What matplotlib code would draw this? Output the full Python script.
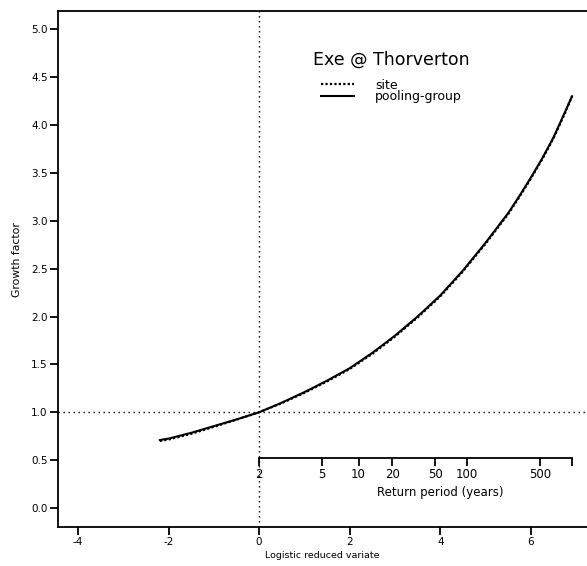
import numpy as np
import matplotlib
matplotlib.use("Agg")
import matplotlib.pyplot as plt

plt.rcParams['font.family'] = ['DejaVu Sans']
plt.rcParams['axes.unicode_minus'] = False

# Growth curves against the logistic reduced variate
reduced_variate = [-2.19, -2.0, -1.5, -1.0, -0.5, 0.0, 0.5, 1.0, 1.5, 2.0,
                   2.5, 3.0, 3.5, 4.0, 4.5, 5.0, 5.5, 5.75, 6.0, 6.25, 6.5, 6.75, 6.91]
growth_site = [0.70, 0.715, 0.775, 0.848, 0.922, 1.00, 1.095, 1.203, 1.322, 1.452,
               1.61, 1.79, 1.99, 2.21, 2.47, 2.76, 3.07, 3.25, 3.44, 3.64, 3.86, 4.12, 4.30]
growth_pooled = [0.71, 0.725, 0.785, 0.855, 0.925, 1.00, 1.10, 1.21, 1.33, 1.46,
                 1.62, 1.80, 2.00, 2.22, 2.48, 2.77, 3.08, 3.26, 3.45, 3.65, 3.87, 4.13, 4.30]

x_ticks = [-4, -2, 0, 2, 4, 6]
y_ticks = [0.0, 0.5, 1.0, 1.5, 2.0, 2.5, 3.0, 3.5, 4.0, 4.5, 5.0]
return_periods = [2, 5, 10, 20, 50, 100, 500, 1000]
return_labels = ['2', '5', '10', '20', '50', '100', '500', '']
rp_axis_level = 0.52

fig = plt.figure(figsize=(5.87, 5.66), dpi=100)
ax = fig.add_axes([58 / 587, 39 / 566, 529 / 587, 516 / 566])
ax.set_xlim(-4.44, 7.24)
ax.set_ylim(-0.198, 5.19)

dot = (0, (1.0, 2.6))
ax.axvline(0, color='black', lw=1.0, ls=dot, zorder=1)
ax.axhline(1.0, color='black', lw=1.0, ls=dot, zorder=1)

ax.plot(reduced_variate, growth_site, color='black', lw=1.6, ls=(0, (1.0, 1.0)),
        label='site', zorder=3)
ax.plot(reduced_variate, growth_pooled, color='black', lw=1.5, ls='-',
        label='pooling-group', zorder=4)

for side in ['left', 'bottom', 'top']:
    ax.spines[side].set_linewidth(1.3)
ax.spines['right'].set_visible(False)

ax.set_xticks(x_ticks)
ax.set_xticklabels([str(v) for v in x_ticks])
ax.set_yticks(y_ticks)
ax.set_yticklabels([f'{v:.1f}' for v in y_ticks])
ax.tick_params(axis='both', direction='out', length=6, width=1.3,
               labelsize=7.5, color='black')
ax.tick_params(axis='x', pad=1)
ax.tick_params(axis='y', pad=1.5)

ax.set_xlabel('Logistic reduced variate', fontsize=6.8, labelpad=3)
ax.set_ylabel('Growth factor', fontsize=7.8)
ax.yaxis.set_label_coords(-0.078, 0.518)
ax.yaxis.label.set_va('center')


def to_return_period(x):
    return 1.0 + np.exp(x)


def to_reduced_variate(t):
    t = np.asarray(t, dtype=float)
    return np.log(np.clip(t - 1.0, 1e-9, None))


secax = ax.secondary_xaxis(rp_axis_level, functions=(to_return_period, to_reduced_variate),
                           transform=ax.transData)
secax.set_alignment('bottom')
secax.set_xticks(return_periods)
secax.set_xticklabels(return_labels)
secax.spines['bottom'].set_bounds(return_periods[0], return_periods[-1])
secax.spines['bottom'].set_linewidth(1.3)
secax.tick_params(axis='x', direction='out', length=6, width=1.3, labelsize=8.5, pad=1)
ax.text(4.0, 0.16, 'Return period (years)', fontsize=8.5, ha='center', va='center')

leg = ax.legend(loc='upper left', bbox_to_anchor=(313 / 587, 1 - 51 / 566),
                bbox_transform=fig.transFigure, frameon=False, fontsize=9,
                title='Exe @ Thorverton', title_fontsize=12.5,
                handlelength=2.6, handletextpad=1.7, labelspacing=-0.1,
                borderpad=0, borderaxespad=0)
leg._legend_box.sep = 7

fig.savefig('out.png', dpi=100)
